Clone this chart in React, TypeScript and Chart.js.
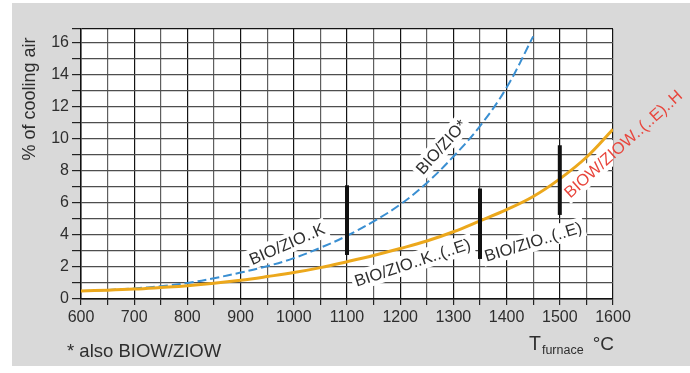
import React, { useEffect, useRef } from 'react';
import { Chart, registerables } from 'chart.js';

Chart.register(...registerables);

// ---- data ----
const orangeTemps = [600, 650, 700, 750, 800, 850, 900, 950, 1000, 1050, 1100, 1150, 1200, 1250, 1300, 1350, 1400, 1450, 1500, 1550, 1600];
const orangeValues = [0.5, 0.55, 0.62, 0.72, 0.83, 0.98, 1.17, 1.4, 1.65, 1.96, 2.33, 2.72, 3.15, 3.62, 4.2, 4.88, 5.58, 6.4, 7.5, 8.85, 10.6];
const blueTemps = [600, 650, 700, 750, 800, 850, 900, 950, 1000, 1050, 1100, 1150, 1200, 1250, 1300, 1350, 1400, 1450];
const blueValues = [0.5, 0.56, 0.66, 0.8, 1.0, 1.3, 1.65, 2.05, 2.55, 3.2, 3.95, 4.85, 5.9, 7.25, 8.9, 10.8, 13.2, 16.4];
const barTemps = [1100, 1350, 1500];
const barLow = [2.75, 2.5, 5.25];
const barHigh = [7.1, 6.9, 9.6];

const yTickValues = [0, 1, 2, 3, 4, 5, 6, 7, 8, 9, 10, 11, 12, 13, 14, 15, 16, 16.86];
const yMax = 16.86;

const labelTexts = ['BIO/ZIO..K', 'BIO/ZIO..K..(..E)', 'BIO/ZIO..(..E)', 'BIO/ZIO*', 'BIOW/ZIOW..(..E)..H'];
const labelX = [987, 1223, 1450, 1277, 1619];
const labelY = [3.44, 2.28, 3.58, 9.5, 9.69];
const labelAngles = [-23.6, -18.4, -17, -48, -41.9];
const labelColors = ['#2e2e2e', '#2e2e2e', '#2e2e2e', '#2e2e2e', '#e8453c'];

const yTitle = '% of cooling air';
const footnote = '* also BIOW/ZIOW';
const xTitleMain = 'T';
const xTitleSub = 'furnace';
const xTitleUnit = '°C';

const FONT = "'Liberation Sans', Arial, Helvetica, sans-serif";

export default function App() {
  const canvasRef = useRef<HTMLCanvasElement | null>(null);

  useEffect(() => {
    const canvas = canvasRef.current;
    if (!canvas) return;

    const bgPlugin = {
      id: 'bgPlugin',
      beforeDraw(chart: any) {
        const { ctx, chartArea } = chart;
        ctx.save();
        ctx.fillStyle = '#ffffff';
        ctx.fillRect(chartArea.left, chartArea.top, chartArea.right - chartArea.left, chartArea.bottom - chartArea.top);
        ctx.restore();
      },
      beforeDatasetsDraw(chart: any) {
        const { ctx, chartArea, scales } = chart;
        ctx.save();
        ctx.font = `16.5px ${FONT}`;
        for (let i = 0; i < labelTexts.length; i++) {
          const px = scales.x.getPixelForValue(labelX[i]);
          const py = scales.y.getPixelForValue(labelY[i]);
          const w = ctx.measureText(labelTexts[i]).width;
          ctx.save();
          ctx.beginPath();
          ctx.rect(chartArea.left, chartArea.top, chartArea.right - chartArea.left, chartArea.bottom - chartArea.top);
          ctx.clip();
          ctx.translate(px, py);
          ctx.rotate((labelAngles[i] * Math.PI) / 180);
          ctx.fillStyle = '#ffffff';
          ctx.fillRect(-w / 2 - 3, -10, w + 6, 20);
          ctx.restore();
        }
        ctx.restore();
      },
      afterDatasetsDraw(chart: any) {
        const { ctx, scales } = chart;
        ctx.save();
        ctx.font = `16.5px ${FONT}`;
        ctx.textAlign = 'center';
        ctx.textBaseline = 'middle';
        for (let i = 0; i < labelTexts.length; i++) {
          const px = scales.x.getPixelForValue(labelX[i]);
          const py = scales.y.getPixelForValue(labelY[i]);
          ctx.save();
          ctx.translate(px, py);
          ctx.rotate((labelAngles[i] * Math.PI) / 180);
          ctx.fillStyle = labelColors[i];
          ctx.fillText(labelTexts[i], 0, 1);
          ctx.restore();
        }
        ctx.restore();
      },
      afterDraw(chart: any) {
        const { ctx } = chart;
        ctx.save();
        ctx.fillStyle = '#2e2e2e';
        ctx.save();
        ctx.translate(30, 99);
        ctx.rotate(-Math.PI / 2);
        ctx.font = `18px ${FONT}`;
        ctx.textAlign = 'center';
        ctx.textBaseline = 'middle';
        ctx.fillText(yTitle, 0, 0);
        ctx.restore();
        ctx.font = `18.5px ${FONT}`;
        ctx.textAlign = 'left';
        ctx.textBaseline = 'alphabetic';
        ctx.fillText(footnote, 67, 357);
        ctx.font = `19.5px ${FONT}`;
        ctx.fillText(xTitleMain, 529, 350);
        const tw = ctx.measureText(xTitleMain).width;
        ctx.font = `12.5px ${FONT}`;
        ctx.fillText(xTitleSub, 529 + tw + 1, 354);
        ctx.font = `19px ${FONT}`;
        ctx.textAlign = 'right';
        ctx.fillText(xTitleUnit, 614, 350);
        ctx.restore();
      },
    };

    const barDatasets = barTemps.map((t, i) => ({
      label: 'bar' + i,
      data: [
        { x: t, y: barLow[i] },
        { x: t, y: barHigh[i] },
      ],
      borderColor: '#111111',
      borderWidth: 4,
      borderCapStyle: 'butt',
      pointRadius: 0,
      fill: false,
    }));

    const chart = new Chart(canvas, {
      type: 'line',
      data: {
        datasets: [
          ...barDatasets,
          {
            label: 'orange',
            data: orangeTemps.map((t, i) => ({ x: t, y: orangeValues[i] })),
            borderColor: '#eca81c',
            borderWidth: 3,
            pointRadius: 0,
            tension: 0.4,
            fill: false,
          },
          {
            label: 'blue',
            data: blueTemps.map((t, i) => ({ x: t, y: blueValues[i] })),
            borderColor: '#3a8fd2',
            borderWidth: 2,
            borderDash: [9, 4],
            pointRadius: 0,
            tension: 0.4,
            fill: false,
          },
        ] as any,
      },
      options: {
        animation: false,
        responsive: false,
        maintainAspectRatio: false,
        devicePixelRatio: 1,
        layout: { padding: { left: 0, right: 77, top: 29, bottom: 0 } },
        plugins: {
          legend: { display: false },
          tooltip: { enabled: false },
        },
        scales: {
          x: {
            type: 'linear',
            min: 600,
            max: 1600,
            ticks: {
              stepSize: 50,
              autoSkip: false,
              maxRotation: 0,
              minRotation: 0,
              padding: 3,
              color: '#2e2e2e',
              font: { family: FONT, size: 16 },
              callback: (v: any) => (Number(v) % 100 === 0 ? String(v) : ''),
            },
            grid: {
              color: (c: any) => (c.tick && c.tick.value % 100 === 0 ? '#141414' : '#5e5e5e'),
              lineWidth: 1.2,
              tickLength: 6,
              tickColor: '#222222',
            },
            border: { color: '#111111', width: 1.5 },
            afterFit: (s: any) => {
              s.height = 74;
            },
          },
          y: {
            type: 'linear',
            min: 0,
            max: yMax,
            afterBuildTicks: (s: any) => {
              s.ticks = yTickValues.map((v) => ({ value: v }));
            },
            ticks: {
              autoSkip: false,
              padding: 3,
              color: '#2e2e2e',
              font: { family: FONT, size: 16 },
              callback: (v: any) => (Number.isInteger(v) && v % 2 === 0 ? String(v) : ''),
            },
            grid: {
              color: (c: any) => (c.tick && (c.tick.value === 0 || c.tick.value > 16.5) ? '#141414' : '#4e4e4e'),
              lineWidth: 1.2,
              tickLength: 9,
              tickColor: '#222222',
            },
            border: { color: '#111111', width: 1.5 },
            afterFit: (s: any) => {
              s.width = 81;
            },
          },
        },
      } as any,
      plugins: [bgPlugin],
    });

    return () => {
      chart.destroy();
    };
  }, []);

  return (
    <div style={{ position: 'fixed', left: 0, top: 0, width: 690, height: 373, background: '#ffffff', overflow: 'hidden' }}>
      <div style={{ position: 'absolute', left: 12, top: 3, width: 678, height: 363, background: '#d9d9d9' }} />
      <canvas
        ref={canvasRef}
        width={690}
        height={373}
        style={{ position: 'absolute', left: 0, top: 0, width: 690, height: 373 }}
      />
    </div>
  );
}
